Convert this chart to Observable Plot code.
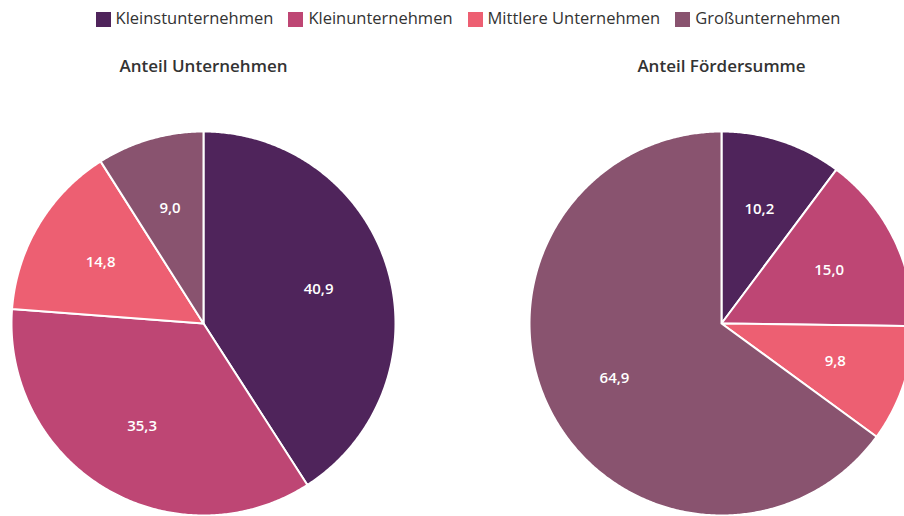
<!DOCTYPE html>
<html>
<head>
<meta charset="utf-8">
<script src="https://cdn.jsdelivr.net/npm/d3@7"></script>
<script src="https://cdn.jsdelivr.net/npm/@observablehq/plot@0.6"></script>
<style>
  html, body { margin: 0; padding: 0; background: #fff; overflow: hidden; width: 904px; height: 516px; }
  body { font-family: "Open Sans", sans-serif; }
  #legend { height: 38px; display: flex; justify-content: center; align-items: center; gap: 15px; font-size: 16.5px; color: #333; padding-left: 32px; box-sizing: border-box; }
  .item { display: flex; align-items: center; gap: 5px; position: relative; top: -2px; }
  .sw { width: 15px; height: 15px; display: inline-block; position: relative; top: 2px; }
  #chart { width: 913px; }
  #chart svg { display: block; overflow: visible; max-width: none !important; }
</style>
</head>
<body>
<div id="legend"></div>
<div id="chart"></div>
<script>
const categories = ["Kleinstunternehmen", "Kleinunternehmen", "Mittlere Unternehmen", "Großunternehmen"];
const colors = ["#4f245b", "#be4674", "#ed5f72", "#89536f"];
const pies = ["Anteil Unternehmen", "Anteil Fördersumme"];
const shareUnternehmen = [40.9, 35.3, 14.8, 9.0];
const shareFoerdersumme = [10.2, 15.0, 9.8, 64.9];
const pieValues = [shareUnternehmen, shareFoerdersumme];

// legend
const legend = document.getElementById("legend");
categories.forEach((c, i) => {
  const it = document.createElement("div");
  it.className = "item";
  it.innerHTML = `<span class="sw" style="background:${colors[i]}"></span><span>${c}</span>`;
  legend.appendChild(it);
});

// build slice polygons (unit circle, clockwise from top)
const vertices = [];
const labels = [];
pies.forEach((p, pi) => {
  const vals = pieValues[pi];
  const total = d3.sum(vals);
  let acc = 0;
  vals.forEach((v, ci) => {
    const a0 = acc / total * 2 * Math.PI;
    const a1 = (acc + v) / total * 2 * Math.PI;
    acc += v;
    const id = p + "|" + ci;
    vertices.push({pie: p, cat: categories[ci], id, x: 0, y: 0});
    const n = Math.max(2, Math.ceil((a1 - a0) / (Math.PI / 360)));
    for (let k = 0; k <= n; k++) {
      const a = a0 + (a1 - a0) * k / n;
      vertices.push({pie: p, cat: categories[ci], id, x: Math.sin(a), y: Math.cos(a)});
    }
    vertices.push({pie: p, cat: categories[ci], id, x: 0, y: 0});
    const am = (a0 + a1) / 2;
    labels.push({pie: p, value: v, x: 0.625 * Math.sin(am), y: 0.625 * Math.cos(am)});
  });
});

const fmt = v => v.toFixed(1).replace(".", ",");

const chart = Plot.plot({
  width: 913,
  height: 478,
  marginLeft: 11,
  marginRight: 0,
  marginTop: 93,
  marginBottom: 1,
  style: {fontFamily: "Open Sans, sans-serif", overflow: "visible"},
  fx: {domain: pies, paddingInner: 0.2587, paddingOuter: 0, axis: null, round: false},
  x: {domain: [-1, 1], axis: null},
  y: {domain: [-1, 1], axis: null},
  color: {domain: categories, range: colors},
  marks: [
    Plot.line(vertices, {fx: "pie", x: "x", y: "y", z: "id", fill: "cat", stroke: "white", strokeWidth: 2, strokeLinejoin: "round", curve: "linear"}),
    Plot.text(labels, {fx: "pie", x: "x", y: "y", text: d => fmt(d.value), fill: "white", fontSize: 15, fontWeight: 600}),
    Plot.text(pies, {fx: d => d, text: d => d, frameAnchor: "top", lineAnchor: "middle", dy: -65, fontSize: 17, fontWeight: 600, fill: "#333"})
  ]
});
document.getElementById("chart").appendChild(chart);
</script>
</body>
</html>
